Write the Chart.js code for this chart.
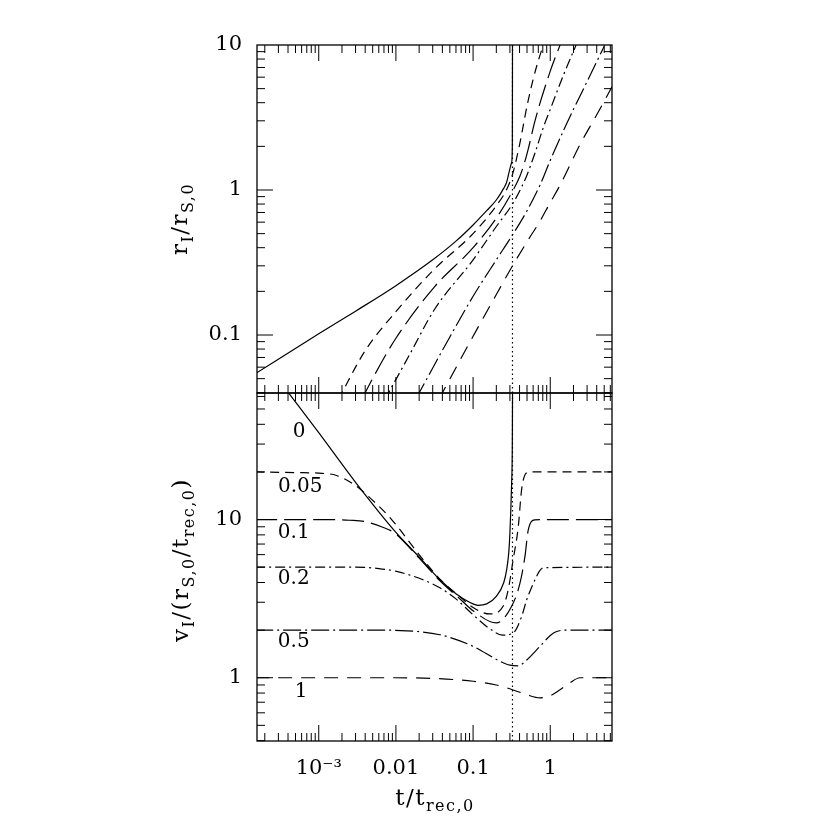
<!DOCTYPE html>
<html>
<head>
<meta charset="utf-8">
<script src="https://cdn.jsdelivr.net/npm/chart.js"></script>
<style>
  body { margin: 0; background: #fff; }
  #wrap { position: relative; width: 830px; height: 830px; }
  canvas { position: absolute; left: 0; top: 0; }
  .lab { position: absolute; font-family: "DejaVu Serif", serif; font-size: 23px; white-space: nowrap; letter-spacing: 1.5px; color: #000; line-height: 1; }
  .lab sub { font-size: 16px; vertical-align: -6px; line-height: 0; }
  .rot { transform: translate(-50%, -50%) rotate(-90deg); }
</style>
</head>
<body>
<div id="wrap">
  <canvas id="top-chart" width="830" height="830"></canvas>
  <canvas id="bot-chart" width="830" height="830"></canvas>
  <div class="lab rot" style="left:179px;top:219px">r<sub>I</sub>/r<sub>S,0</sub></div>
  <div class="lab rot" style="left:180px;top:560px">v<sub>I</sub>/(r<sub>S,0</sub>/t<sub>rec,0</sub>)</div>
  <div class="lab" style="left:435px;top:797px;transform:translate(-50%,-50%)">t/t<sub>rec,0</sub></div>
</div>
<script>
// axis limits
const tMin = Math.pow(10, -3.8), tMax = Math.pow(10, 0.8)
const rMin = Math.pow(10, -1.4), rMax = 10
const vMin = Math.pow(10, -0.4), vMax = Math.pow(10, 1.8)

// tick labels
const tTicks = [1e-3, 0.01, 0.1, 1]
const tTickText = ['10\u207B\u00B3', '0.01', '0.1', '1']
const rTicks = [0.1, 1, 10]
const rTickText = ['0.1', '1', '10']
const vTicks = [1, 10]
const vTickText = ['1', '10']

// curve labels (epsilon) and where they sit in the lower panel
const epsText = ['0', '0.05', '0.1', '0.2', '0.5', '1']
const epsLabT = [4.6e-4, 2.96e-4, 2.95e-4, 2.95e-4, 2.95e-4, 4.9e-4]
const epsLabV = [36, 16.1, 8.3, 4.2, 1.68, 0.82]

// upper panel: r_I / r_S,0
const rT0 = [1.5e-4, 1e-3, 0.003, 0.01, 0.03, 0.06, 0.1, 0.15, 0.2, 0.25, 0.272, 0.29, 0.305, 0.316, 0.3225, 0.324]
const r0 = [0.054, 0.102, 0.146, 0.219, 0.33, 0.444, 0.574, 0.72, 0.853, 1.03, 1.13, 1.3, 1.45, 1.55, 2.0, 10]
const rT05 = [0.0018, 0.004, 0.01, 0.0316, 0.1, 0.2, 0.27, 0.324, 0.4, 0.5, 0.6, 0.7, 0.815]
const r05 = [0.036, 0.078, 0.145, 0.285, 0.5, 0.78, 1.0, 1.28, 2.05, 3.8, 5.8, 7.8, 10]
const rT1 = [0.0036, 0.006, 0.01, 0.0316, 0.1, 0.2, 0.324, 0.405, 0.47, 0.52, 0.634, 1.0, 1.34]
const r1 = [0.036, 0.06, 0.095, 0.215, 0.4, 0.64, 0.98, 1.25, 1.58, 1.93, 3.0, 6.6, 10]
const rT2 = [0.0072, 0.015, 0.0316, 0.1, 0.2, 0.324, 0.426, 0.494, 0.634, 0.813, 1.0, 1.5, 2.16]
const r2 = [0.036, 0.073, 0.15, 0.33, 0.56, 0.80, 1.05, 1.25, 1.8, 2.7, 3.6, 6.3, 10]
const rT5 = [0.018, 0.05, 0.1, 0.2, 0.324, 0.5, 0.736, 1.0, 1.5, 2.0, 3.0, 5.0]
const r5 = [0.036, 0.097, 0.185, 0.33, 0.49, 0.72, 1.08, 1.6, 2.6, 3.6, 5.6, 9.8]
const rT10 = [0.036, 0.1, 0.2, 0.324, 0.5, 0.736, 1.0, 1.34, 2.43, 4.0, 6.31]
const r10 = [0.036, 0.098, 0.19, 0.3, 0.44, 0.61, 0.82, 1.08, 2.06, 3.3, 5.15]

// lower panel: v_I / (r_S,0 / t_rec,0)
const vT0 = [3.8e-4, 1e-3, 0.003, 0.01, 0.02, 0.0372, 0.06, 0.09, 0.116, 0.15, 0.2, 0.25, 0.272, 0.29, 0.30, 0.3158, 0.322, 0.3245]
const v0 = [66, 35.4, 17.2, 8.3, 5.8, 4.16, 3.4, 3.0, 2.87, 2.93, 3.27, 4.0, 4.8, 6.2, 8.2, 17, 28, 64]
const vT05 = [1.5e-4, 5e-4, 0.0011, 0.0017, 0.0029, 0.0044, 0.0088, 0.02, 0.0372, 0.07, 0.1, 0.165, 0.245, 0.285, 0.331, 0.385, 0.425, 0.484, 0.55, 6.4]
const v05 = [20, 19.8, 19.6, 19.0, 16.6, 14, 10, 6.0, 4.2, 3.2, 2.78, 2.53, 2.83, 3.6, 5.6, 9.0, 15.4, 19.6, 20, 20]
const vT1 = [1.5e-4, 1e-3, 0.0018, 0.0025, 0.004, 0.0065, 0.0097, 0.02, 0.0372, 0.07, 0.1, 0.2, 0.316, 0.405, 0.47, 0.519, 0.634, 0.75, 6.4]
const v1 = [10, 10, 9.97, 9.9, 9.7, 9.0, 8.2, 5.7, 4.1, 3.1, 2.65, 2.22, 2.83, 3.96, 5.85, 8.6, 9.96, 10, 10]
const vT2 = [1.5e-4, 0.003, 0.006, 0.0102, 0.0225, 0.0372, 0.06, 0.1, 0.16, 0.24, 0.331, 0.426, 0.494, 0.634, 0.72, 0.813, 6.4]
const v2 = [5, 5, 4.9, 4.7, 4.16, 3.7, 3.15, 2.5, 2.06, 1.86, 1.92, 2.44, 3.1, 4.16, 4.7, 4.95, 5]
const vT5 = [1.5e-4, 0.005, 0.0137, 0.0372, 0.1, 0.223, 0.3, 0.385, 0.5, 0.736, 1.0, 1.21, 1.6, 6.4]
const v5 = [2, 2, 1.98, 1.87, 1.58, 1.27, 1.2, 1.19, 1.3, 1.58, 1.85, 1.96, 2.0, 2]
const vT10 = [1.5e-4, 0.01, 0.03, 0.1, 0.2, 0.324, 0.5, 0.736, 1.0, 1.34, 1.8, 2.43, 6.4]
const v10 = [1, 1, 0.99, 0.95, 0.9, 0.84, 0.78, 0.746, 0.77, 0.84, 0.93, 1.0, 1.0]

// time where the eps=0 front runs away (dotted line)
const critT = [0.324, 0.324]
const critR = [rMin, rMax]
const critV = [vMin, vMax]

// one dash pattern per epsilon
const dashes = [[], [9, 6], [22, 7], [10, 4, 2, 4], [18, 4, 2, 4], [14, 9]]

function curve(ts, ys, dash) {
    return {
        data: ts.map((t, i) => ({x: t, y: ys[i]})),
        borderColor: '#000',
        borderWidth: 1.2,
        borderDash: dash,
        pointRadius: 0,
        fill: false,
        cubicInterpolationMode: 'monotone'
    }
}

function dotted(ts, ys) {
    return {
        data: ts.map((t, i) => ({x: t, y: ys[i]})),
        borderColor: '#000',
        borderWidth: 1.2,
        borderDash: [1.5, 3],
        pointRadius: 0,
        fill: false,
        tension: 0
    }
}

function logTicks(min, max) {
    let out = []
    for (let e = Math.floor(Math.log10(min)); e <= Math.ceil(Math.log10(max)); e++) {
        for (let k = 1; k < 10; k++) {
            let v = k * Math.pow(10, e)
            if (v > min * 1.0001 && v < max * 0.9999) out.push({v: v, major: k === 1})
        }
    }
    return out
}

// box round the panel with inward ticks on all four sides
const framePlugin = {
    id: 'frame',
    afterDraw(chart) {
        const ctx = chart.ctx
        const a = chart.chartArea
        const x = chart.scales.x
        const y = chart.scales.y
        ctx.save()
        ctx.strokeStyle = '#000'
        ctx.lineWidth = 1
        ctx.beginPath()
        logTicks(x.min, x.max).forEach(tk => {
            let px = x.getPixelForValue(tk.v)
            let len = tk.major ? 16 : 8
            ctx.moveTo(px, a.top)
            ctx.lineTo(px, a.top + len)
            ctx.moveTo(px, a.bottom)
            ctx.lineTo(px, a.bottom - len)
        })
        logTicks(y.min, y.max).forEach(tk => {
            let py = y.getPixelForValue(tk.v)
            let len = tk.major ? 16 : 8
            ctx.moveTo(a.left, py)
            ctx.lineTo(a.left + len, py)
            ctx.moveTo(a.right, py)
            ctx.lineTo(a.right - len, py)
        })
        ctx.stroke()
        ctx.lineWidth = 1.3
        ctx.strokeRect(a.left, a.top, a.right - a.left, a.bottom - a.top)
        ctx.restore()
    }
}

// epsilon labels in the lower panel
const epsPlugin = {
    id: 'epsLabels',
    afterDatasetsDraw(chart) {
        const ctx = chart.ctx
        ctx.save()
        ctx.fillStyle = '#000'
        ctx.font = '20px "DejaVu Serif", serif'
        ctx.textAlign = 'left'
        ctx.textBaseline = 'middle'
        epsText.forEach((s, i) => {
            ctx.fillText(s, chart.scales.x.getPixelForValue(epsLabT[i]), chart.scales.y.getPixelForValue(epsLabV[i]))
        })
        ctx.restore()
    }
}

const tickFont = {family: '"DejaVu Serif", serif', size: 21}

function yAxis(min, max, vals, texts) {
    return {
        type: 'logarithmic',
        min: min,
        max: max,
        grid: {display: false, drawTicks: false},
        border: {display: false},
        afterBuildTicks: s => { s.ticks = vals.map(v => ({value: v})) },
        afterFit: s => { s.width = 257; s.paddingTop = 0; s.paddingBottom = 0 },
        ticks: {
            padding: 15,
            color: '#000',
            font: tickFont,
            autoSkip: false,
            callback: (v, i) => texts[i]
        }
    }
}

const topSets = [
    curve(rT0, r0, dashes[0]),
    curve(rT05, r05, dashes[1]),
    curve(rT1, r1, dashes[2]),
    curve(rT2, r2, dashes[3]),
    curve(rT5, r5, dashes[4]),
    curve(rT10, r10, dashes[5]),
    dotted(critT, critR)
]

const botSets = [
    curve(vT0, v0, dashes[0]),
    curve(vT05, v05, dashes[1]),
    curve(vT1, v1, dashes[2]),
    curve(vT2, v2, dashes[3]),
    curve(vT5, v5, dashes[4]),
    curve(vT10, v10, dashes[5]),
    dotted(critT, critV)
]

let topChart = new Chart(document.querySelector('#top-chart'), {
    type: 'line',
    data: {datasets: topSets},
    options: {
        responsive: false,
        animation: false,
        events: [],
        layout: {padding: {left: 0, top: 45, right: 218, bottom: 437}},
        plugins: {legend: {display: false}, tooltip: {enabled: false}},
        scales: {
            x: {type: 'logarithmic', min: tMin, max: tMax, display: false},
            y: yAxis(rMin, rMax, rTicks, rTickText)
        }
    },
    plugins: [framePlugin]
})

let botChart = new Chart(document.querySelector('#bot-chart'), {
    type: 'line',
    data: {datasets: botSets},
    options: {
        responsive: false,
        animation: false,
        events: [],
        layout: {padding: {left: 0, top: 393, right: 218, bottom: 0}},
        plugins: {legend: {display: false}, tooltip: {enabled: false}},
        scales: {
            x: {
                type: 'logarithmic',
                min: tMin,
                max: tMax,
                grid: {display: false, drawTicks: false},
                border: {display: false},
                afterBuildTicks: s => { s.ticks = tTicks.map(v => ({value: v})) },
                afterFit: s => { s.height = 89; s.paddingLeft = 0; s.paddingRight = 0 },
                ticks: {
                    padding: 15,
                    color: '#000',
                    font: tickFont,
                    autoSkip: false,
                    maxRotation: 0,
                    callback: (v, i) => tTickText[i]
                }
            },
            y: yAxis(vMin, vMax, vTicks, vTickText)
        }
    },
    plugins: [framePlugin, epsPlugin]
})
</script>
</body>
</html>
